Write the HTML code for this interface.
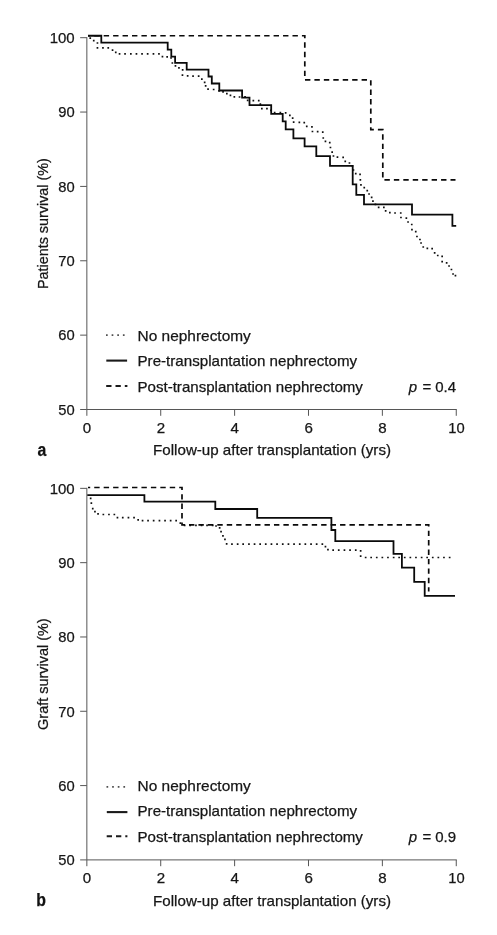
<!DOCTYPE html>
<html><head><meta charset="utf-8"><title>Survival after transplantation</title>
<style>
html,body{margin:0;padding:0;background:#fff}
svg{display:block}
text{font-family:"Liberation Sans",sans-serif;font-size:15px;fill:#161616;stroke:#161616;stroke-width:0.25}
.n{font-size:15px}
.pl{font-weight:bold;font-size:17.5px;fill:#111}
.ax{fill:none;stroke:#565656;stroke-width:1}
.sol{fill:none;stroke:#0a0a0a;stroke-width:1.8;stroke-linejoin:miter}
.dash{fill:none;stroke:#0a0a0a;stroke-width:1.7;stroke-dasharray:5.4 4.04;stroke-dashoffset:3.2}
.dot{fill:none;stroke:#111;stroke-width:1.7}
.ldot{fill:none;stroke:#505050;stroke-width:1.9;stroke-dasharray:1.7 3.93}
.ldash{fill:none;stroke:#1a1a1a;stroke-width:2;stroke-dasharray:5.3 4.0}
.lsol{fill:none;stroke:#1a1a1a;stroke-width:2.1}
</style></head>
<body>
<svg width="497" height="935" viewBox="0 0 497 935">
<rect width="497" height="935" fill="#fff"/>
<g>
<path d="M86.85,37.20V409.50H456.75" class="ax"/>
<path d="M80.15,37.70H86.85" class="ax"/>
<text x="74.7" y="43.00" text-anchor="end" textLength="25.0" lengthAdjust="spacingAndGlyphs" class="n">100</text>
<path d="M80.15,112.06H86.85" class="ax"/>
<text x="74.7" y="117.36" text-anchor="end" textLength="16.4" lengthAdjust="spacingAndGlyphs" class="n">90</text>
<path d="M80.15,186.42H86.85" class="ax"/>
<text x="74.7" y="191.72" text-anchor="end" textLength="16.4" lengthAdjust="spacingAndGlyphs" class="n">80</text>
<path d="M80.15,260.78H86.85" class="ax"/>
<text x="74.7" y="266.08" text-anchor="end" textLength="16.4" lengthAdjust="spacingAndGlyphs" class="n">70</text>
<path d="M80.15,335.14H86.85" class="ax"/>
<text x="74.7" y="340.44" text-anchor="end" textLength="16.4" lengthAdjust="spacingAndGlyphs" class="n">60</text>
<path d="M80.15,409.50H86.85" class="ax"/>
<text x="74.7" y="414.80" text-anchor="end" textLength="16.4" lengthAdjust="spacingAndGlyphs" class="n">50</text>
<path d="M86.85,409.50V415.80" class="ax"/>
<text x="87.05" y="432.90" text-anchor="middle" textLength="8.4" lengthAdjust="spacingAndGlyphs" class="n">0</text>
<path d="M160.73,409.50V415.80" class="ax"/>
<text x="160.93" y="432.90" text-anchor="middle" textLength="8.4" lengthAdjust="spacingAndGlyphs" class="n">2</text>
<path d="M234.61,409.50V415.80" class="ax"/>
<text x="234.81" y="432.90" text-anchor="middle" textLength="8.4" lengthAdjust="spacingAndGlyphs" class="n">4</text>
<path d="M308.49,409.50V415.80" class="ax"/>
<text x="308.69" y="432.90" text-anchor="middle" textLength="8.4" lengthAdjust="spacingAndGlyphs" class="n">6</text>
<path d="M382.37,409.50V415.80" class="ax"/>
<text x="382.57" y="432.90" text-anchor="middle" textLength="8.4" lengthAdjust="spacingAndGlyphs" class="n">8</text>
<path d="M456.25,409.50V415.80" class="ax"/>
<text x="456.45" y="432.90" text-anchor="middle" textLength="16.4" lengthAdjust="spacingAndGlyphs" class="n">10</text>
<text x="153.1" y="455.30" textLength="237.9" lengthAdjust="spacingAndGlyphs">Follow-up after transplantation (yrs)</text>
<text transform="translate(48.2,289.10) rotate(-90)" textLength="131" lengthAdjust="spacingAndGlyphs">Patients survival (%)</text>
<text x="37.4" y="455.70" class="pl" textLength="8.8" lengthAdjust="spacingAndGlyphs">a</text>
<path d="M106.0,335.15H125.5" class="ldot"/>
<path d="M106.3,360.60H127.1" class="lsol"/>
<path d="M106.2,385.95H127.4" class="ldash"/>
<text x="137.6" y="341.10" textLength="113.2" lengthAdjust="spacingAndGlyphs">No nephrectomy</text>
<text x="137.5" y="366.10" textLength="219.6" lengthAdjust="spacingAndGlyphs">Pre-transplantation nephrectomy</text>
<text x="137.5" y="391.70" textLength="225.4" lengthAdjust="spacingAndGlyphs">Post-transplantation nephrectomy</text>
<text x="408.7" y="391.70"><tspan font-style="italic">p</tspan> <tspan x="422.5">=</tspan> <tspan x="435.2">0.4</tspan></text>
<path d="M89.4,38.2h1.7M92.9,40.6h1.7M96.6,43.0h1.7M96.6,47.9h1.7M102.1,47.9h1.7M107.4,47.9h1.7M111.7,50.1h1.7M114.9,52.3h1.7M118.7,53.9h1.7M124.2,53.9h1.7M130.0,53.9h1.7M135.6,53.9h1.7M141.2,53.9h1.7M146.8,53.9h1.7M152.6,53.9h1.7M158.1,53.8h1.7M161.6,56.6h1.7M166.3,56.9h1.7M170.2,58.0h1.7M171.5,63.0h1.7M174.6,65.8h1.7M178.1,67.9h1.7M181.8,69.9h1.7M181.6,75.2h1.7M186.8,75.9h1.7M192.2,76.2h1.7M197.8,76.2h1.7M201.0,79.2h1.7M203.8,82.3h1.7M204.8,85.8h1.7M207.2,89.2h1.7M212.8,89.5h1.7M218.2,90.8h1.7M222.2,91.8h1.7M226.0,93.7h1.7M229.6,95.4h1.7M233.5,96.8h1.7M238.7,97.0h1.7M244.2,96.8h1.7M246.8,100.3h1.7M252.5,100.7h1.7M257.9,100.7h1.7M259.5,104.1h1.7M261.0,108.6h1.7M266.1,108.6h1.7M270.1,110.3h1.7M273.8,112.5h1.7M279.5,112.5h1.7M284.8,112.8h1.7M289.0,115.4h1.7M291.8,118.2h1.7M292.8,122.1h1.7M298.5,122.4h1.7M303.4,122.7h1.7M305.9,126.3h1.7M311.1,126.9h1.7M311.6,131.5h1.7M316.8,131.6h1.7M321.9,132.2h1.7M322.4,138.0h1.7M324.6,141.4h1.7M328.9,142.6h1.7M329.6,147.5h1.7M331.3,152.2h1.7M332.6,156.0h1.7M336.6,157.1h1.7M342.3,157.4h1.7M344.4,161.3h1.7M348.6,163.0h1.7M351.6,166.0h1.7M352.6,170.0h1.7M354.9,173.6h1.7M359.2,174.3h1.7M359.5,179.9h1.7M360.1,184.8h1.7M363.4,187.7h1.7M366.4,190.7h1.7M368.2,194.0h1.7M370.8,197.3h1.7M372.1,201.1h1.7M374.6,204.3h1.7M377.8,207.4h1.7M383.0,207.4h1.7M384.8,210.9h1.7M389.0,212.7h1.7M394.2,213.0h1.7M399.9,213.0h1.7M400.1,217.5h1.7M405.5,218.2h1.7M407.2,222.0h1.7M410.9,224.5h1.7M411.1,229.6h1.7M414.9,231.7h1.7M416.1,236.5h1.7M419.1,239.5h1.7M420.2,243.0h1.7M422.4,247.0h1.7M426.5,248.3h1.7M431.3,248.6h1.7M433.8,252.8h1.7M436.9,255.5h1.7M441.3,256.3h1.7M441.3,261.7h1.7M445.8,262.8h1.7M448.2,266.0h1.7M450.6,269.5h1.7M452.2,274.0h1.7M454.6,275.7h1.7" class="dot"/>
<path d="M88,35.75H304.8V79.9H370.8V129.7H382.8V179.8H455.5" class="dash"/>
<path d="M88,35.75H101.3V42.7H167.7V49.7H171.3V56.6H175.1V62.8H186.7V69.6H208.5V76.5H211.8V83.5H219.3V90.5H242.1V97.6H249.5V105.2H271.2V113.9H282.7V121.3H285.7V129.4H293.4V138.4H304.6V146.4H316.3V156.1H330V165.9H352.7V184.4H356.3V194.8H364V204.4H412V214.6H452.4V225.8H456.2" class="sol"/>
</g>
<g>
<path d="M86.85,487.85V859.90H456.75" class="ax"/>
<path d="M80.15,488.35H86.85" class="ax"/>
<text x="74.7" y="493.65" text-anchor="end" textLength="25.0" lengthAdjust="spacingAndGlyphs" class="n">100</text>
<path d="M80.15,562.66H86.85" class="ax"/>
<text x="74.7" y="567.96" text-anchor="end" textLength="16.4" lengthAdjust="spacingAndGlyphs" class="n">90</text>
<path d="M80.15,636.97H86.85" class="ax"/>
<text x="74.7" y="642.27" text-anchor="end" textLength="16.4" lengthAdjust="spacingAndGlyphs" class="n">80</text>
<path d="M80.15,711.28H86.85" class="ax"/>
<text x="74.7" y="716.58" text-anchor="end" textLength="16.4" lengthAdjust="spacingAndGlyphs" class="n">70</text>
<path d="M80.15,785.59H86.85" class="ax"/>
<text x="74.7" y="790.89" text-anchor="end" textLength="16.4" lengthAdjust="spacingAndGlyphs" class="n">60</text>
<path d="M80.15,859.90H86.85" class="ax"/>
<text x="74.7" y="865.20" text-anchor="end" textLength="16.4" lengthAdjust="spacingAndGlyphs" class="n">50</text>
<path d="M86.85,859.90V866.20" class="ax"/>
<text x="87.05" y="883.30" text-anchor="middle" textLength="8.4" lengthAdjust="spacingAndGlyphs" class="n">0</text>
<path d="M160.73,859.90V866.20" class="ax"/>
<text x="160.93" y="883.30" text-anchor="middle" textLength="8.4" lengthAdjust="spacingAndGlyphs" class="n">2</text>
<path d="M234.61,859.90V866.20" class="ax"/>
<text x="234.81" y="883.30" text-anchor="middle" textLength="8.4" lengthAdjust="spacingAndGlyphs" class="n">4</text>
<path d="M308.49,859.90V866.20" class="ax"/>
<text x="308.69" y="883.30" text-anchor="middle" textLength="8.4" lengthAdjust="spacingAndGlyphs" class="n">6</text>
<path d="M382.37,859.90V866.20" class="ax"/>
<text x="382.57" y="883.30" text-anchor="middle" textLength="8.4" lengthAdjust="spacingAndGlyphs" class="n">8</text>
<path d="M456.25,859.90V866.20" class="ax"/>
<text x="456.45" y="883.30" text-anchor="middle" textLength="16.4" lengthAdjust="spacingAndGlyphs" class="n">10</text>
<text x="153.1" y="905.85" textLength="237.9" lengthAdjust="spacingAndGlyphs">Follow-up after transplantation (yrs)</text>
<text transform="translate(48.2,729.88) rotate(-90)" textLength="111.5" lengthAdjust="spacingAndGlyphs">Graft survival (%)</text>
<text x="36.2" y="906.25" class="pl" textLength="9.7" lengthAdjust="spacingAndGlyphs">b</text>
<path d="M106.5,786.90H126.0" class="ldot"/>
<path d="M106.8,812.10H127.39999999999999" class="lsol"/>
<path d="M106.7,836.20H127.4" class="ldash"/>
<text x="137.6" y="790.80" textLength="113.2" lengthAdjust="spacingAndGlyphs">No nephrectomy</text>
<text x="137.5" y="816.20" textLength="219.6" lengthAdjust="spacingAndGlyphs">Pre-transplantation nephrectomy</text>
<text x="137.5" y="841.60" textLength="225.4" lengthAdjust="spacingAndGlyphs">Post-transplantation nephrectomy</text>
<text x="408.7" y="841.60"><tspan font-style="italic">p</tspan> <tspan x="422.5">=</tspan> <tspan x="435.2">0.9</tspan></text>
<path d="M89.8,498.3h1.7M90.5,503.2h1.7M91.9,508.6h1.7M94.1,511.7h1.7M97.2,513.8h1.7M102.5,514.5h1.7M108.1,514.5h1.7M113.5,514.5h1.7M116.6,517.7h1.7M121.9,517.7h1.7M127.6,517.7h1.7M133.2,517.7h1.7M137.3,519.9h1.7M141.7,520.7h1.7M147.2,520.6h1.7M152.8,520.6h1.7M158.6,520.6h1.7M164.2,520.6h1.7M169.8,520.6h1.7M175.3,520.6h1.7M179.5,523.2h1.7M183.8,525.4h1.7M189.3,525.4h1.7M195.1,525.4h1.7M200.7,525.4h1.7M206.2,525.4h1.7M211.8,525.4h1.7M215.2,526.0h1.7M218.8,527.9h1.7M220.2,531.7h1.7M222.1,535.9h1.7M224.1,539.4h1.7M225.8,543.9h1.7M231.1,544.2h1.7M236.8,544.2h1.7M242.3,544.2h1.7M248.1,544.2h1.7M253.7,544.2h1.7M259.3,544.2h1.7M264.9,544.2h1.7M270.6,544.2h1.7M276.2,544.2h1.7M281.9,544.2h1.7M287.6,544.2h1.7M293.2,544.2h1.7M298.9,544.2h1.7M304.5,544.2h1.7M310.2,544.2h1.7M315.8,544.2h1.7M321.5,544.2h1.7M324.6,546.6h1.7M327.1,549.7h1.7M332.3,550.1h1.7M337.9,550.1h1.7M343.6,550.1h1.7M349.2,550.1h1.7M354.9,550.1h1.7M359.8,550.8h1.7M359.8,556.2h1.7M364.8,557.5h1.7M370.3,557.5h1.7M375.9,557.5h1.7M381.5,557.5h1.7M387.1,557.5h1.7M392.8,557.5h1.7M398.3,557.5h1.7M403.9,557.5h1.7M409.5,557.5h1.7M415.1,557.5h1.7M420.8,557.5h1.7M426.3,557.5h1.7M431.9,557.5h1.7M437.5,557.5h1.7M443.1,557.5h1.7M448.8,557.5h1.7" class="dot"/>
<path d="M88,487.5H182V524.9H428.7V591.5" class="dash"/>
<path d="M87.3,495.2H144.4V501.7H215.3V509H257.2V517.9H331.4V530H335.3V541.1H393.5V553.9H401.9V567.6H414.2V581.8H424.7V595.9H455" class="sol"/>
</g>
</svg>
</body></html>
